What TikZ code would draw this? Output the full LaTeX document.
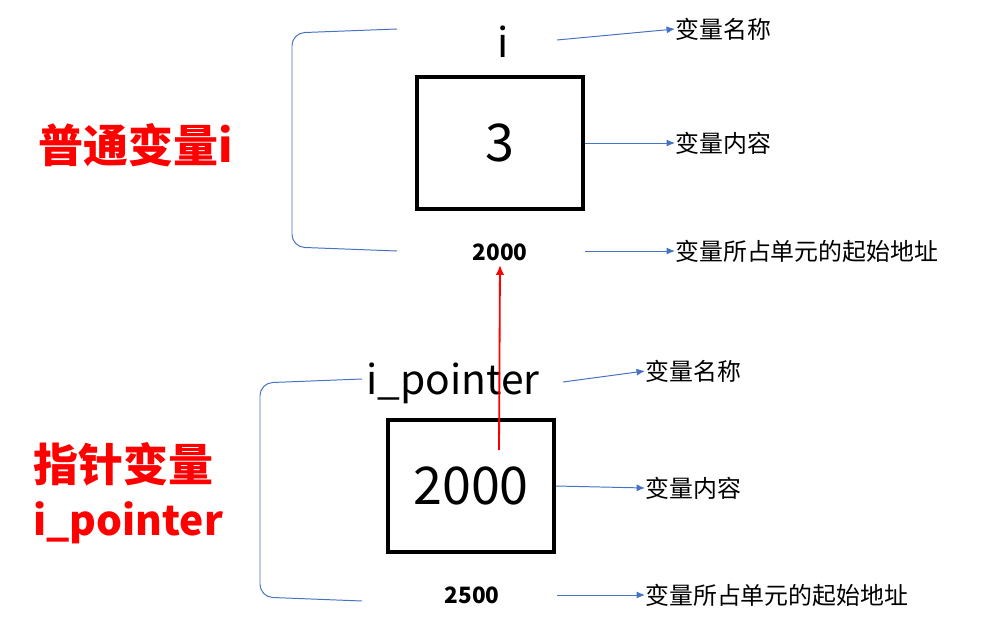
\documentclass[tikz,border=0pt]{standalone}
\usepackage{fontspec}
\setmainfont{Noto Sans CJK SC}
\usepackage{xcolor}
\usetikzlibrary{positioning, arrows.meta}

\definecolor{officeblue}{HTML}{4472C4}

\begin{document}
\begin{tikzpicture}[
  x=0.025cm, y=-0.025cm,
  cellbox/.style={draw, line width=2.6pt, minimum width=4.15cm,
                  minimum height=3.3cm, inner sep=0pt,
                  font=\fontsize{37}{44}\selectfont},
  varname/.style={inner sep=0pt, font=\fontsize{29}{34}\selectfont},
  addr/.style={inner sep=0pt, font=\fontsize{16}{19}\selectfont\bfseries},
  note/.style={anchor=west, inner sep=0pt,
               font=\fontsize{17}{20}\selectfont},
  bigred/.style={anchor=west, inner sep=0pt, text=red, align=left,
                 font=\fontsize{32}{38}\selectfont\bfseries},
  pointer/.style={officeblue, line width=0.7pt,
                  -{Latex[length=6pt, width=5pt]}},
  brace/.style={officeblue, line width=0.7pt, rounded corners=9},
]
  \useasboundingbox (0,0) rectangle (988,624);

  % Ordinary variable i
  \node[bigred] (plainlbl) at (38,145) {普通变量i};
  \node[varname] (iname) at (503,42) {i};
  \node[cellbox] (ibox) at (500,143) {3};
  \node[addr] (iaddr) at (500,252) {2000};

  \draw[brace] (397,29) -- (292,33) -- (292,247) -- (397,251);

  \node[note] (inamelbl) at (675,29) {变量名称};
  \node[note] (ivallbl) at (675,143) {变量内容};
  \node[note] (iaddrlbl) at (675,251) {变量所占单元的起始地址};

  \coordinate (inameout) at (557,40);
  \coordinate (iaddrout) at (585,251);
  \draw[pointer] (inameout) -- (inamelbl.west);
  \draw[pointer] (ibox.east) -- (ivallbl.west);
  \draw[pointer] (iaddrout) -- (iaddrlbl.west);

  % Pointer variable i_pointer
  \node[bigred] (ptrlbl) at (33,493)
    {指针变量\\{\fontsize{29}{34}\selectfont i\_pointer}};
  \node[varname] (pname) at (453,383) {i\_pointer};
  \node[cellbox] (pbox) at (471,486) {2000};
  \node[addr] (paddr) at (472,595) {2500};

  \draw[brace] (362,379) -- (260,383) -- (260,597) -- (362,601);

  \node[note] (pnamelbl) at (645,371) {变量名称};
  \node[note] (pvallbl) at (645,488) {变量内容};
  \node[note] (paddrlbl) at (645,595) {变量所占单元的起始地址};

  \coordinate (pnameout) at (563,382);
  \coordinate (paddrout) at (557,595);
  \draw[pointer] (pnameout) -- (pnamelbl.west);
  \draw[pointer] (pbox.east) -- (pvallbl.west);
  \draw[pointer] (paddrout) -- (paddrlbl.west);

  % Pointer to the address of i
  \coordinate (ptrtail) at (499,450);
  \draw[red, line width=1.3pt, -{Latex[length=7pt, width=6pt]}]
    (ptrtail) -- ([yshift=-3pt]iaddr.south);

\end{tikzpicture}
\end{document}
